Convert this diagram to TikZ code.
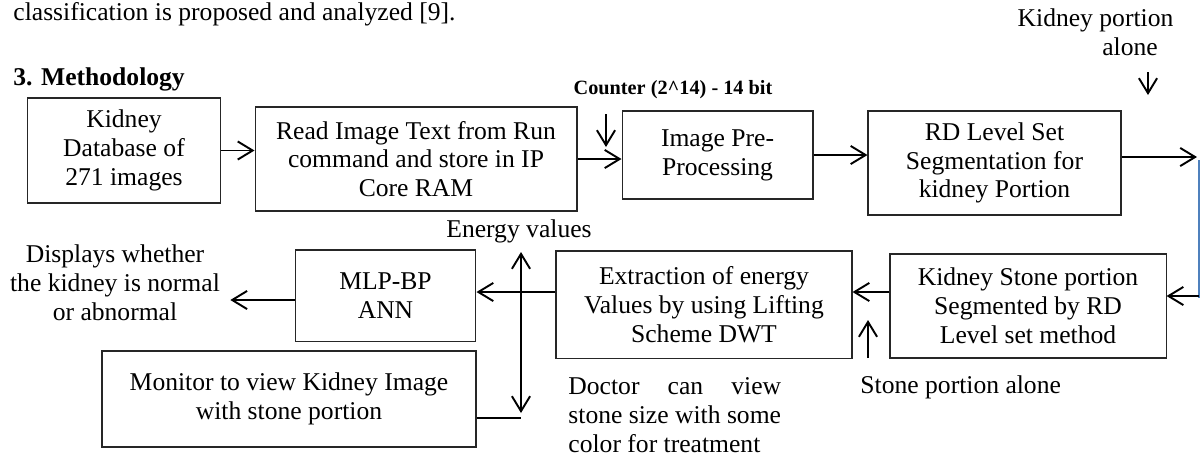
\documentclass[tikz,border=0pt]{standalone}
\usepackage{fontspec}
\setmainfont{Liberation Serif}
\usetikzlibrary{arrows.meta}
\definecolor{linkblue}{RGB}{79,129,189}

\begin{document}
\begin{tikzpicture}[x=0.46875pt, y=-0.46875pt,
    >={Straight Barb[length=7pt,width=8.5pt]},
    box/.style={draw=black!85, line width=0.5pt, align=center, inner sep=2pt, font=\fontsize{12pt}{13.5pt}\selectfont},
    plain/.style={align=center, inner sep=0pt, font=\fontsize{12pt}{13.5pt}\selectfont},
    flow/.style={line width=0.9pt, ->}]
            \useasboundingbox (0,0) rectangle (1203,458);

            \node[plain, anchor=base west] (para) at (13,20) {classification is proposed and analyzed [9].};
            \node[plain, anchor=base west, font=\fontsize{12pt}{13.5pt}\selectfont\bfseries] (head) at (13,85) {3. Methodology};

            % upper row
            \node[box, minimum width=90.9pt, minimum height=49.2pt] (db) at (124,150.5) {Kidney\\Database of\\271 images};
            \node[box, minimum width=150.9pt, minimum height=48.75pt] (ram) at (416,159) {Read Image Text from Run\\command and store in IP\\Core RAM};
            \node[box, minimum width=89.5pt, minimum height=41.25pt] (pre) at (717.5,155) {Image Pre-\\Processing};
            \node[box, minimum width=118.6pt, minimum height=48.75pt] (seg) at (994.5,163) {RD Level Set\\Segmentation for\\kidney Portion};

            % lower row
            \node[box, minimum width=129.4pt, minimum height=48.75pt] (stone) at (1028,306) {Kidney Stone portion\\Segmented by RD\\Level set method};
            \node[box, minimum width=138.75pt, minimum height=50.2pt] (ex) at (704,304.5) {Extraction of energy\\Values by using Lifting\\Scheme DWT};
            \node[box, minimum width=84.8pt, minimum height=42.7pt] (mlp) at (385.5,295.5) {MLP-BP\\ANN};
            \node[box, minimum width=175.3pt, minimum height=45pt] (mon) at (289,399) {Monitor to view Kidney Image\\with stone portion};

            % side notes
            \node[plain, anchor=base, font=\fontsize{9.5pt}{11pt}\selectfont\bfseries] (cnt) at (673,94) {Counter (2\^{}14) - 14 bit};
            \node[plain] (kp) at (1095.5,32) {Kidney portion\\\hspace*{2.7em}alone};
            \node[plain, inner xsep=4.7pt] (disp) at (115,283) {Displays whether\\the kidney is normal\\or abnormal};
            \node[plain] (ev) at (519,231) {Energy values};
            \node[plain, anchor=base west] (sp) at (860,393) {Stone portion alone};
            \node[plain, align=left, anchor=west] (doc) at (568,415) {\makebox[99.7pt][s]{Doctor can view}\\stone size with some\\color for treatment};

            \coordinate (cnt-a) at (606,114);
            \coordinate (cnt-b) at (606,147);
            \coordinate (kp-a) at (1148,72);
            \coordinate (kp-b) at (1148,95);
            \coordinate (seg-out) at (1197,157);
            \coordinate (bl-top) at (1199,160);
            \coordinate (bl-bot) at (1199,298);
            \coordinate (sp-a) at (868,358);
            \coordinate (sp-b) at (868,320);
            \coordinate (ev-top) at (521,252);
            \coordinate (ev-bot) at (521,413);

            \draw[flow] (db.east) -- (db.east -| ram.west);
            \draw[flow] (ram.east) -- (ram.east -| pre.west);
            \draw[flow] (pre.east) -- (pre.east -| seg.west);
            \draw[flow] (cnt-a) -- (cnt-b);
            \draw[flow] (kp-a) -- (kp-b);
            \draw[flow] (seg.east |- seg-out) -- (seg-out);
            \draw[linkblue, line width=0.8pt] (bl-top) -- (bl-bot);
            \draw[flow] (bl-bot |- 0,296) -- (stone.east |- 0,296);
            \draw[flow] (stone.west |- 0,292) -- (ex.east |- 0,292);
            \draw[flow] (sp-a) -- (sp-b);
            \draw[flow] (ex.west |- 0,292) -- (mlp.east |- 0,292);
            \draw[flow] (mlp.west |- 0,300) -- (disp.east |- 0,300);
            \draw[flow, <->] (ev-top) -- (ev-bot);
            \draw[line width=0.9pt] (mon.east |- 0,418) -- (ev-bot |- 0,418);

        \end{tikzpicture}
\end{document}
